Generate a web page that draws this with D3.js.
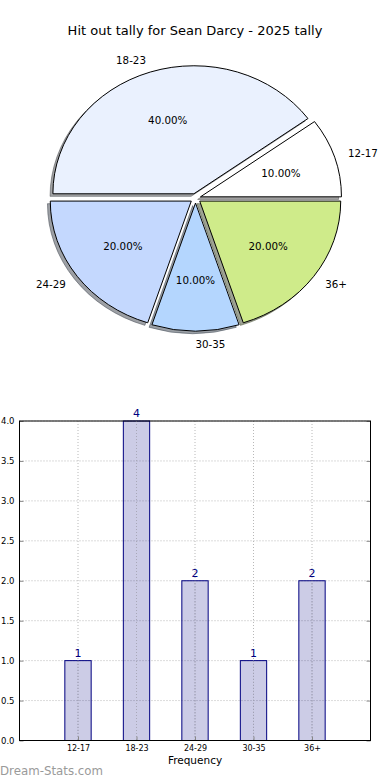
<!DOCTYPE html>
<html>
<head>
<meta charset="utf-8">
<script src="https://cdn.jsdelivr.net/npm/d3@7"></script>
<style>
  html, body { margin: 0; padding: 0; background: #fff; }
  svg { display: block; font-family: "DejaVu Sans", sans-serif; }
</style>
</head>
<body>
<svg id="chart" width="390" height="780"></svg>
<script>
// ---- data ----
const title = "Hit out tally for Sean Darcy - 2025 tally";
const categories = ["12-17", "18-23", "24-29", "30-35", "36+"];
const counts = [1, 4, 2, 1, 2];
const pieColors = ["#ffffff", "#eaf1fe", "#c4d8fe", "#b4d6fe", "#cfeb8a"];
const yTicks = [0, 0.5, 1, 1.5, 2, 2.5, 3, 3.5, 4];
const xLabel = "Frequency";
const watermark = "Dream-Stats.com";

const svg = d3.select("#chart");

// ---- title ----
svg.append("text")
  .attr("x", 195).attr("y", 34.5)
  .attr("text-anchor", "middle")
  .attr("font-size", 13)
  .attr("fill", "#000")
  .text(title);

// ---- pie ----
const cx = 195.5, cy = 198.3, rx = 141, ry = 128, explode = 0.037;
const total = d3.sum(counts);
const pie = d3.pie().sort(null).value(d => d)
  .startAngle(Math.PI / 2).endAngle(Math.PI / 2 - 2 * Math.PI);
const arcs = pie(counts);
const arcGen = d3.arc().innerRadius(0).outerRadius(1);

const pieG = svg.append("g");
arcs.forEach((a, i) => {
  const mid = (a.startAngle + a.endAngle) / 2;
  const ux = Math.sin(mid), uy = -Math.cos(mid);
  const ox = cx + explode * rx * ux, oy = cy + explode * ry * uy;
  // shadow
  const c = d3.rgb(pieColors[i]);
  const sc = d3.rgb(c.r * 0.3, c.g * 0.3, c.b * 0.3);
  pieG.append("path")
    .attr("d", arcGen(a))
    .attr("transform", `translate(${ox - 0.02 * rx},${oy + 0.02 * ry}) scale(${rx},${ry})`)
    .attr("fill", sc.toString())
    .attr("fill-opacity", 0.5)
    .attr("stroke", sc.toString())
    .attr("stroke-opacity", 0.5)
    .attr("stroke-width", 1)
    .attr("vector-effect", "non-scaling-stroke");
});
arcs.forEach((a, i) => {
  const mid = (a.startAngle + a.endAngle) / 2;
  const ux = Math.sin(mid), uy = -Math.cos(mid);
  const ox = cx + explode * rx * ux, oy = cy + explode * ry * uy;
  pieG.append("path")
    .attr("d", arcGen(a))
    .attr("transform", `translate(${ox},${oy}) scale(${rx},${ry})`)
    .attr("fill", pieColors[i])
    .attr("stroke", "#000")
    .attr("stroke-width", 1)
    .attr("vector-effect", "non-scaling-stroke");
  // category label
  pieG.append("text")
    .attr("x", ox + 1.1 * rx * ux)
    .attr("y", oy + 1.1 * ry * uy)
    .attr("dy", "0.36em")
    .attr("text-anchor", ux > -1e-6 ? "start" : "end")
    .attr("font-size", 10.3)
    .text(categories[i]);
  // percent label
  pieG.append("text")
    .attr("x", ox + 0.6 * rx * ux)
    .attr("y", oy + 0.6 * ry * uy)
    .attr("dy", "0.36em")
    .attr("text-anchor", "middle")
    .attr("font-size", 10.3)
    .text((counts[i] / total * 100).toFixed(2) + "%");
});

// ---- bar chart ----
const L = 19.5, R = 370.5, T = 421, B = 740.5;
const x = d3.scaleLinear().domain([-1, 5]).range([L, R]);
const y = d3.scaleLinear().domain([0, 4]).range([B, T]);
const barW = 0.45;
const bg = svg.append("g");

// grid
bg.selectAll(".hgrid").data(yTicks).join("line")
  .attr("x1", L).attr("x2", R)
  .attr("y1", d => y(d)).attr("y2", d => y(d))
  .attr("stroke", "#b8b8b8").attr("stroke-width", 1)
  .attr("stroke-dasharray", "1,2");
bg.selectAll(".vgrid").data(categories).join("line")
  .attr("x1", (d, i) => x(i)).attr("x2", (d, i) => x(i))
  .attr("y1", T).attr("y2", B)
  .attr("stroke", "#b8b8b8").attr("stroke-width", 1)
  .attr("stroke-dasharray", "1,2");

// bars
bg.selectAll(".bar").data(counts).join("rect")
  .attr("x", (d, i) => x(i - barW / 2))
  .attr("width", (d, i) => x(i + barW / 2) - x(i - barW / 2))
  .attr("y", d => y(d))
  .attr("height", d => y(0) - y(d))
  .attr("fill", "#000080").attr("fill-opacity", 0.2)
  .attr("stroke", "#000080").attr("stroke-width", 1);
// re-draw vertical grid over bars (matplotlib grid drawn above)
bg.selectAll(".vgrid2").data(counts).join("line")
  .attr("x1", (d, i) => x(i)).attr("x2", (d, i) => x(i))
  .attr("y1", d => y(d)).attr("y2", B)
  .attr("stroke", "#a8a8b8").attr("stroke-width", 1)
  .attr("stroke-dasharray", "1,2");

// value labels
bg.selectAll(".val").data(counts).join("text")
  .attr("x", (d, i) => x(i))
  .attr("y", d => y(d) - 4)
  .attr("text-anchor", "middle")
  .attr("font-size", 11)
  .attr("fill", "#000080")
  .text(d => d);

// axes
const yAxis = d3.axisLeft(y).tickValues(yTicks).tickFormat(d3.format(".1f")).tickSize(-4).tickPadding(5);
const yg = bg.append("g").attr("transform", `translate(${L},0)`).call(yAxis);
yg.select(".domain").remove();
yg.selectAll(".tick line").attr("stroke", "#888");
yg.selectAll("text").attr("font-size", 8.5).attr("font-family", "DejaVu Sans").attr("fill", "#000");

const yAxisR = d3.axisRight(y).tickValues(yTicks).tickFormat("").tickSize(-4);
const ygr = bg.append("g").attr("transform", `translate(${R},0)`).call(yAxisR);
ygr.select(".domain").remove();
ygr.selectAll(".tick line").attr("stroke", "#888");

const xAxis = d3.axisBottom(x).tickValues(d3.range(categories.length)).tickFormat(i => categories[i]).tickSize(-4).tickPadding(5);
const xg = bg.append("g").attr("transform", `translate(0,${B})`).call(xAxis);
xg.select(".domain").remove();
xg.selectAll(".tick line").attr("stroke", "#888");
xg.selectAll("text").attr("font-size", 8).attr("font-family", "DejaVu Sans").attr("fill", "#000");

// frame
bg.append("rect")
  .attr("x", L).attr("y", T).attr("width", R - L).attr("height", B - T)
  .attr("fill", "none").attr("stroke", "#000").attr("stroke-width", 1);

// x label
svg.append("text")
  .attr("x", (L + R) / 2).attr("y", 764)
  .attr("text-anchor", "middle")
  .attr("font-size", 10.5)
  .text(xLabel);

// watermark
svg.append("text")
  .attr("x", 0).attr("y", 775)
  .attr("font-size", 11.8)
  .attr("fill", "#9a9a9a")
  .text(watermark);
</script>
</body>
</html>
